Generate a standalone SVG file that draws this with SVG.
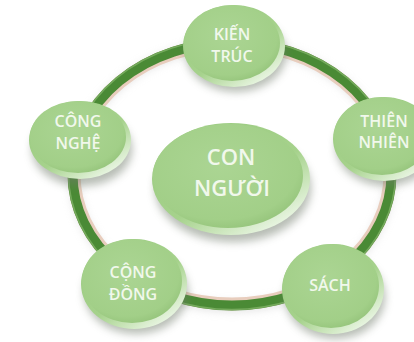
<svg xmlns="http://www.w3.org/2000/svg" width="414" height="342" viewBox="0 0 414 342">
<style>
.t{font-family:"Open Sans","Noto Sans","Liberation Sans",sans-serif;fill:#f1f8ec;text-anchor:middle;font-weight:600}
.s{font-size:16px}
.c{font-size:22px}
.shadow{fill:#6f7a6a;opacity:0.5;filter:url(#blur)}
.rim{fill:url(#rimG)}
.face{fill:url(#faceG)}
</style>
<defs>
<filter id="blur" x="-30%" y="-30%" width="160%" height="160%"><feGaussianBlur stdDeviation="4"/></filter>
<linearGradient id="rimG" x1="0" y1="0" x2="0.8" y2="1">
<stop offset="0" stop-color="#98c97e"/>
<stop offset="0.6" stop-color="#a6d28c"/>
<stop offset="1" stop-color="#f2faee"/>
</linearGradient>
<radialGradient id="faceG" cx="0.45" cy="0.4" r="0.65">
<stop offset="0" stop-color="#abd593"/>
<stop offset="0.8" stop-color="#a2cf88"/>
<stop offset="1" stop-color="#93c279"/>
</radialGradient>
</defs>
<rect width="414" height="342" fill="#ffffff"/>
<g id="connectors">
<ellipse cx="232" cy="176" rx="158" ry="131" fill="none" stroke="#c9c9c9" stroke-width="10" opacity="0.5" filter="url(#blur)"/>
<ellipse cx="232" cy="174" rx="158" ry="130" fill="none" stroke="#e8cdbd" stroke-width="13"/>
<ellipse cx="232" cy="174" rx="159.5" ry="131.5" fill="none" stroke="#4a8a35" stroke-width="10"/>
<ellipse cx="232" cy="174" rx="163.5" ry="135.5" fill="none" stroke="#7fb267" stroke-width="1.5" opacity="0.8"/>
</g>
<g id="node-con-nguoi">
<ellipse class="shadow" cx="233" cy="188" rx="78" ry="54"/>
<ellipse class="rim" cx="231" cy="179" rx="79" ry="56"/>
<ellipse class="face" cx="228" cy="176" rx="75" ry="52"/>
<text class="t c" x="231" y="165">CON</text>
<text class="t c" x="232" y="196">NGƯỜI</text>
</g>
<g id="node-kien-truc">
<ellipse class="shadow" cx="236" cy="54" rx="50" ry="38"/>
<ellipse class="rim" cx="234" cy="46" rx="51" ry="41"/>
<ellipse class="face" cx="232" cy="43" rx="48" ry="38"/>
<text class="t s" x="232" y="40">KIẾN</text>
<text class="t s" x="232" y="62">TRÚC</text>
</g>
<g id="node-cong-nghe">
<ellipse class="shadow" cx="82" cy="149" rx="50" ry="37"/>
<ellipse class="rim" cx="80" cy="140" rx="51" ry="39"/>
<ellipse class="face" cx="78" cy="137" rx="48" ry="36"/>
<text class="t s" x="78" y="127">CÔNG</text>
<text class="t s" x="78" y="149">NGHỆ</text>
</g>
<g id="node-thien-nhien">
<ellipse class="shadow" cx="386" cy="147" rx="50" ry="39"/>
<ellipse class="rim" cx="384" cy="139" rx="51" ry="42"/>
<ellipse class="face" cx="382" cy="136" rx="48" ry="39"/>
<text class="t s" x="384" y="127">THIÊN</text>
<text class="t s" x="384" y="148">NHIÊN</text>
</g>
<g id="node-cong-dong">
<ellipse class="shadow" cx="136" cy="292" rx="52" ry="42"/>
<ellipse class="rim" cx="134" cy="284" rx="53" ry="45"/>
<ellipse class="face" cx="132" cy="281" rx="50" ry="42"/>
<text class="t s" x="133" y="278">CỘNG</text>
<text class="t s" x="133" y="300">ĐỒNG</text>
</g>
<g id="node-sach">
<ellipse class="shadow" cx="335" cy="297" rx="50" ry="42"/>
<ellipse class="rim" cx="333" cy="289" rx="51" ry="45"/>
<ellipse class="face" cx="331" cy="286" rx="48" ry="42"/>
<text class="t s" x="330" y="291">SÁCH</text>
</g>
</svg>
